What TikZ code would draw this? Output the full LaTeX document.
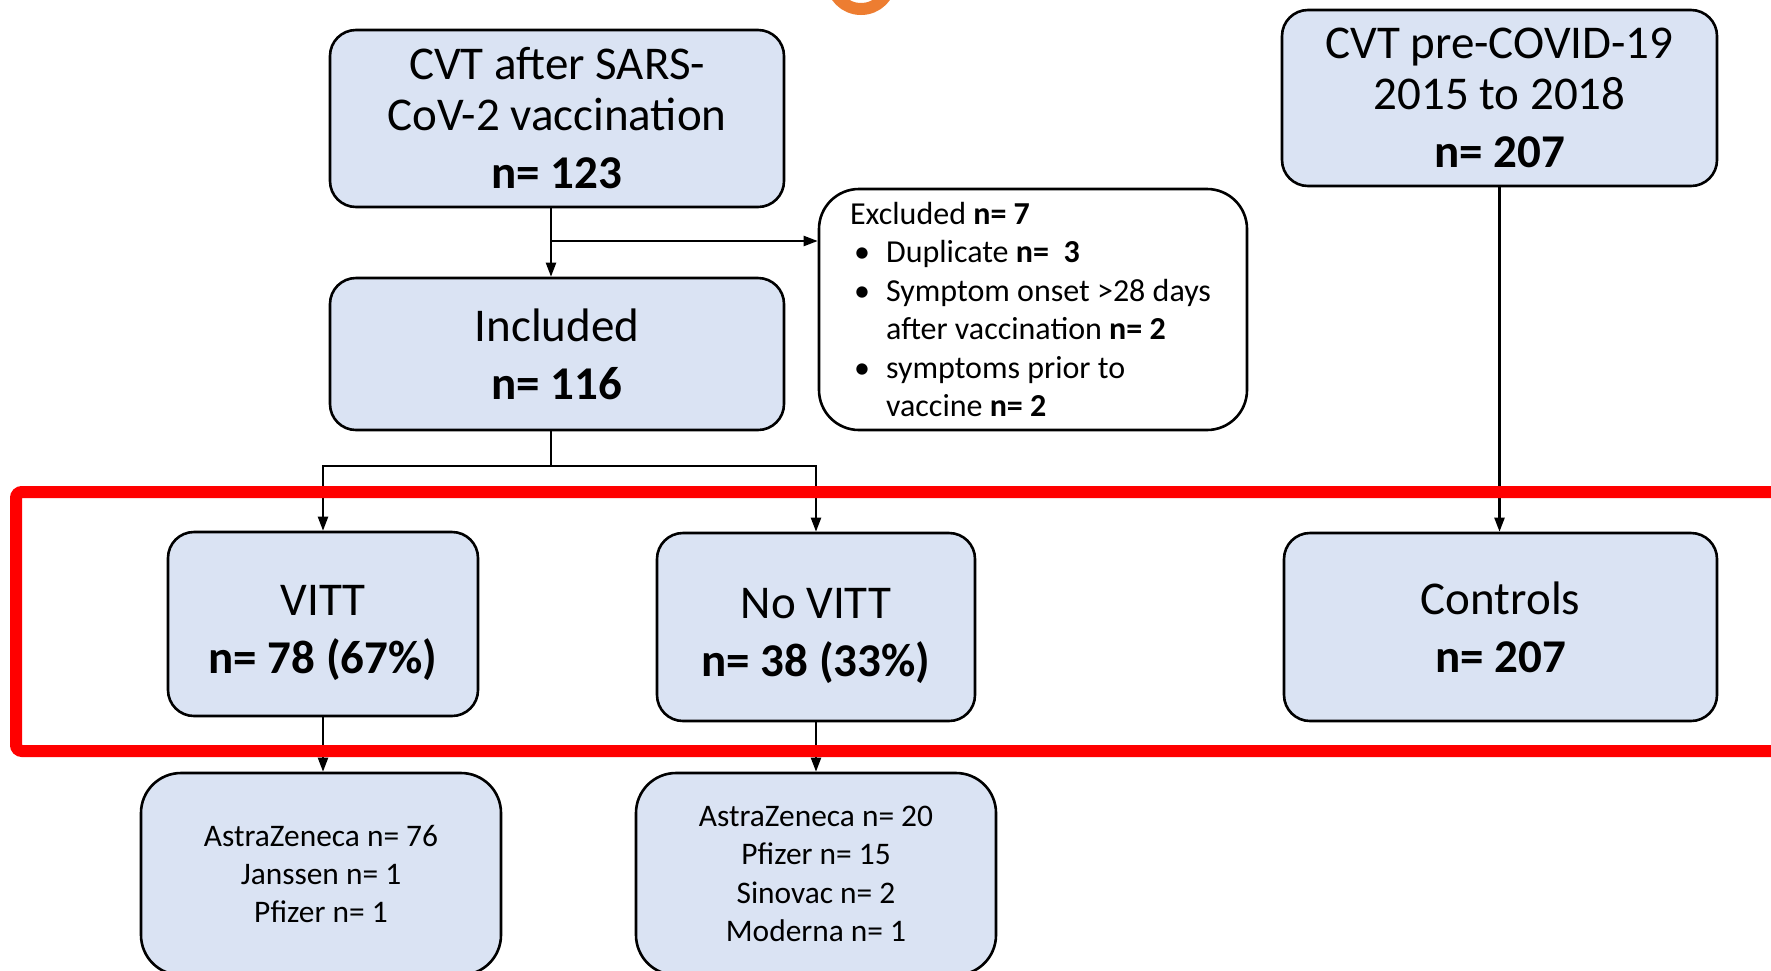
\documentclass[tikz,border=0pt]{standalone}
\usepackage{fontspec}
\setmainfont{Carlito}
\usetikzlibrary{arrows.meta}
\definecolor{boxfill}{HTML}{DAE3F3}
\definecolor{ringorange}{HTML}{ED7D31}
\begin{document}
\begin{tikzpicture}[x=0.5pt,y=-0.5pt,
  box/.style={draw=black, line width=1.3pt, fill=boxfill, rounded corners=13pt, align=center, inner sep=0pt},
  big/.style={font=\fontsize{23.5pt}{25.5pt}\selectfont},
  small/.style={font=\fontsize{15.7pt}{19.2pt}\selectfont},
  arr/.style={line width=1.1pt, -{Triangle[length=7pt,width=5pt]}},
  ln/.style={line width=1.1pt},
  redframe/.style={draw=red, line width=6pt, rounded corners=3pt, inner sep=0pt}
]
\clip (0,0) rectangle (1771,970);
\fill[white] (0,0) rectangle (1771,970);
\draw[ringorange, line width=6pt] (861,-20.5) circle[radius=14.75pt];

\node[box, big, minimum width=227pt, minimum height=88.5pt] (b1) at (557,118.5) {CVT after SARS-\\CoV-2 vaccination\\[3.5pt]\textbf{n= 123}};
\node[box, big, minimum width=227pt, minimum height=76pt] (inc) at (557,354) {Included\\[3.5pt]\textbf{n= 116}};
\node[box, rounded corners=20pt, minimum width=214pt, minimum height=120.5pt, fill=white] (exc) at (1033,309.5) {};
\node[anchor=west, align=left, inner sep=0pt, font=\fontsize{16pt}{19.2pt}\selectfont] (exct) at ([xshift=16pt]exc.west) {Excluded \textbf{n= 7}\\
\hspace*{2pt}\makebox[16pt][l]{\textbullet}Duplicate \textbf{n=~~3}\\
\hspace*{2pt}\makebox[16pt][l]{\textbullet}Symptom onset >28 days\\
\hspace*{18pt}after vaccination \textbf{n= 2}\\
\hspace*{2pt}\makebox[16pt][l]{\textbullet}symptoms prior to\\
\hspace*{18pt}vaccine \textbf{n= 2}};
\node[box, big, minimum width=217.5pt, minimum height=88pt] (pre) at (1499.5,98) {CVT pre-COVID-19\\2015 to 2018\\[3.5pt]\textbf{n= 207}};
\node[box, big, minimum width=155pt, minimum height=92pt] (vitt) at (323,624) {\rule{0pt}{24pt}VITT\\[3.5pt]\textbf{n= 78 (67\%)}};
\node[box, big, minimum width=159pt, minimum height=94pt] (novitt) at (816,627) {\rule{0pt}{24pt}No VITT\\[3.5pt]\textbf{n= 38 (33\%)}};
\node[box, big, minimum width=216.5pt, minimum height=94pt] (ctrl) at (1500.5,627) {Controls\\[3.5pt]\textbf{n= 207}};
\node[box, small, rounded corners=20pt, minimum width=180pt, minimum height=101pt] (s1) at (321,874) {AstraZeneca n= 76\\Janssen n= 1\\Pfizer n= 1};
\node[box, small, rounded corners=20pt, minimum width=180pt, minimum height=101pt] (s2) at (816,874) {AstraZeneca n= 20\\Pfizer n= 15\\Sinovac n= 2\\Moderna n= 1};

\coordinate (j1) at (551,241);
\coordinate (j2) at (551,466);
\draw[arr] (b1.south -| j1) -- (inc.north -| j1);
\draw[arr] (j1) -- (j1 -| exc.west);
\draw[ln] (inc.south -| j2) -- (j2);
\draw[arr] (j2) -| (vitt.north);
\draw[arr] (j2) -| (novitt.north);
\draw[arr] (pre.south) -- (ctrl.north -| pre.south);
\draw[arr] (vitt.south) -- (s1.north -| vitt.south);
\draw[arr] (novitt.south) -- (s2.north);

\node[redframe, minimum width=892pt, minimum height=129.5pt] (frame) at (908,621.5) {};
\end{tikzpicture}
\end{document}
